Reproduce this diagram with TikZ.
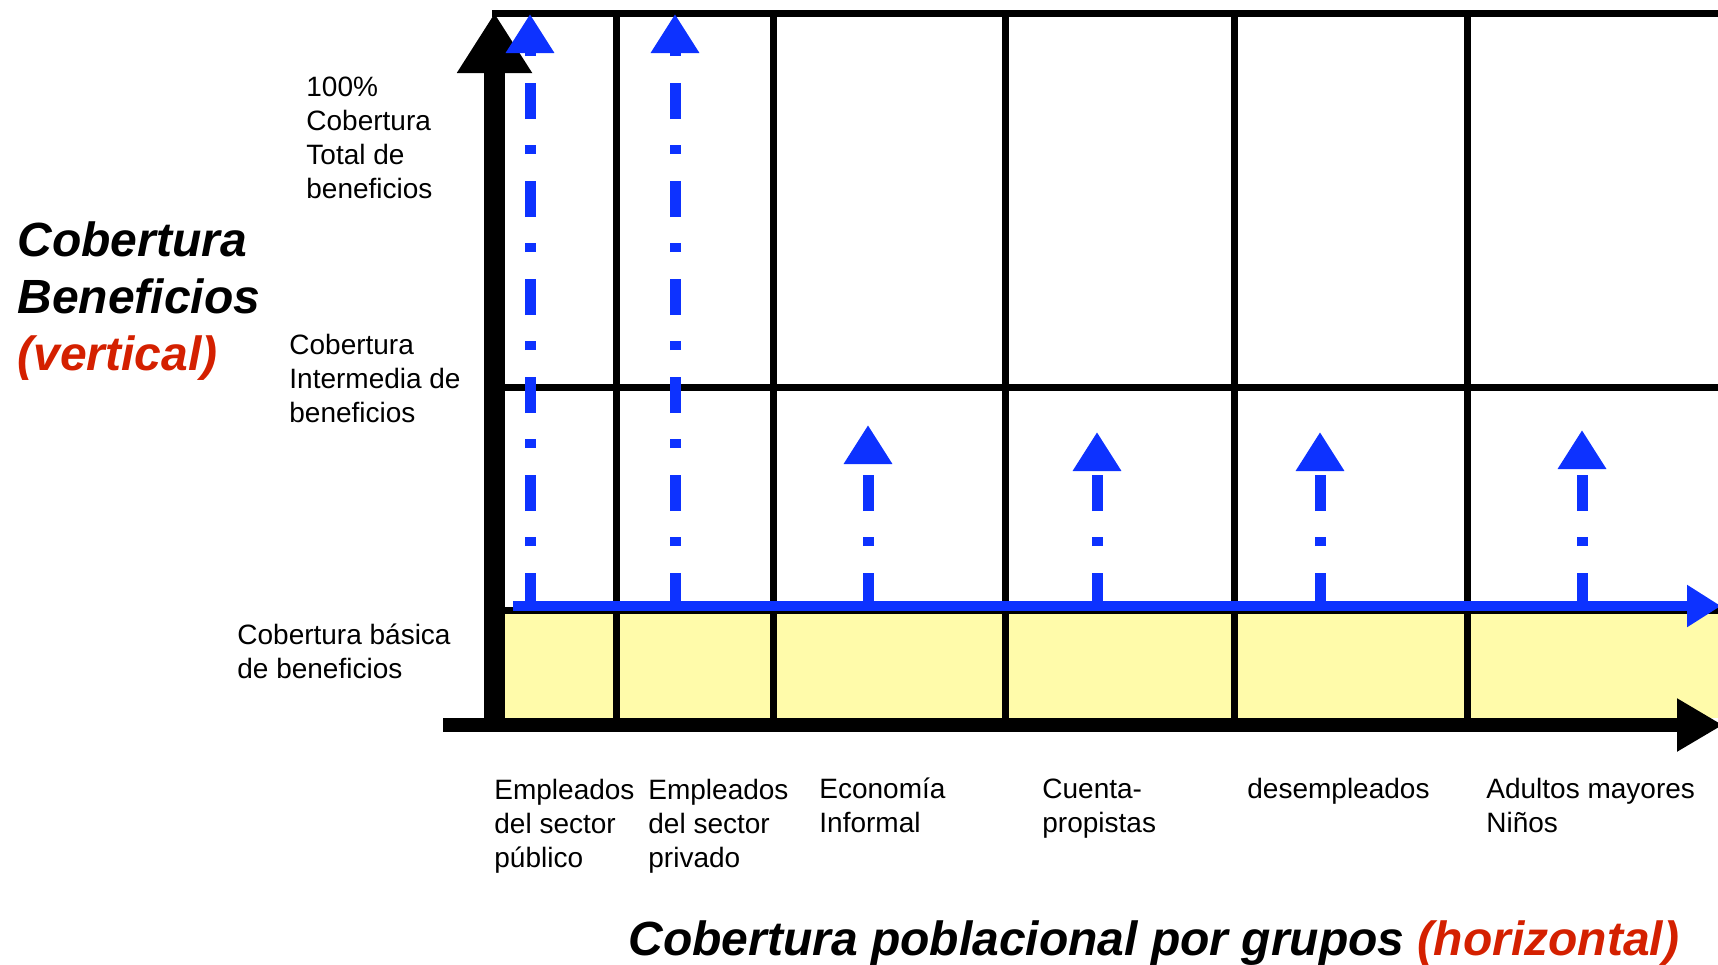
\documentclass[tikz,border=0pt]{standalone}
\usepackage{fontspec}
\setmainfont{Liberation Sans}
\usetikzlibrary{arrows.meta}

\definecolor{coverblue}{RGB}{13,50,255}
\definecolor{titlered}{RGB}{212,32,0}
\definecolor{basicyellow}{RGB}{255,251,170}

\begin{document}
\begin{tikzpicture}[x=0.5pt, y=-0.5pt,
    gridline/.style={line width=3.5pt},
    lbl/.style={anchor=base west, inner sep=0pt, align=left, font=\fontsize{14}{17}\selectfont},
    bigtitle/.style={anchor=base west, inner sep=0pt, align=left, font=\fontsize{24}{28.5}\selectfont\bfseries\itshape},
    raise/.style={coverblue, line width=5.5pt, dash pattern=on 18pt off 13.5pt on 4.5pt off 13pt,
      -{Triangle[width=23pt,length=19.5pt]}}]
      \useasboundingbox (0,0) rectangle (1718,964);
      % basic coverage band
      \fill[basicyellow] (505,613) rectangle (1718,718);
      % grid
      \draw[gridline] (492,13) -- (1718,13);
      \draw[gridline] (505,387.5) -- (1718,387.5);
      \draw[gridline] (505,610) -- (1718,610);
      \foreach \x in {616,773,1005,1234,1467}
        \draw[gridline] (\x,13) -- (\x,718);
      % axes
      \coordinate (o) at (494.5,725);
      \coordinate (ytop) at (494.5,13);
      \coordinate (xo) at (443,725);
      \coordinate (xend) at (1723,725);
      \draw[line width=10.5pt, -{Triangle[width=35.5pt,length=30pt]}] (o) -- (ytop);
      \draw[line width=7pt, -{Triangle[width=25pt,length=23pt]}] (xo) -- (xend);
      % blue coverage arrows
      \coordinate (bstart) at (513,606);
      \coordinate (bend) at (1721,606);
      \draw[coverblue, line width=4.75pt, -{Triangle[width=20pt,length=17pt]}] (bstart) -- (bend);
      \foreach \x/\t [count=\i] in {530/14, 675/14, 868/425, 1097/432, 1320/432, 1582/430} {
        \coordinate (g\i) at (\x,609);
        \coordinate (top\i) at (\x,\t);
        \draw[raise] (g\i) -- (top\i);
      }
      % vertical axis labels (anchored on the last line)
      \node[lbl] (total) at (306,198) {100\%\\Cobertura\\Total de\\beneficios};
      \node[lbl] (inter) at (289,422) {Cobertura\\Intermedia de\\beneficios};
      \node[lbl] (basic) at (237,678) {Cobertura básica\\de beneficios};
      \node[bigtitle] (vtitle) at (17,370) {Cobertura\\Beneficios\\\textcolor{titlered}{(vertical)}};
      % population groups
      \node[lbl] (pub) at (494,867) {Empleados\\del sector\\público};
      \node[lbl] (priv) at (648,867) {Empleados\\del sector\\privado};
      \node[lbl] (inf) at (819,832) {Economía\\Informal};
      \node[lbl] (self) at (1042,832) {Cuenta-\\propistas};
      \node[lbl] (unemp) at (1247,798) {desempleados};
      \node[lbl] (old) at (1486,832) {Adultos mayores\\Niños};
      \node[bigtitle] (htitle) at (628,955) {Cobertura poblacional por grupos \textcolor{titlered}{(horizontal)}};
\end{tikzpicture}
\end{document}
